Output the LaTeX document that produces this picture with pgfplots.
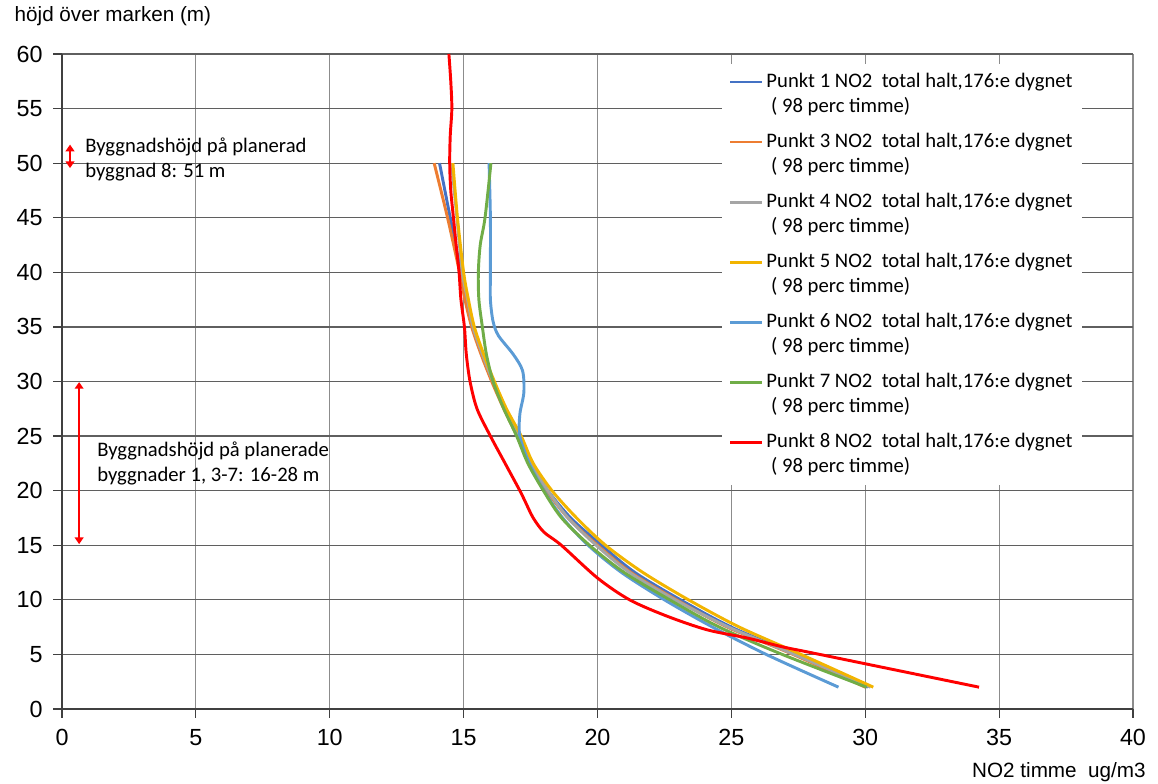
\documentclass[border=0pt]{standalone}
\usepackage{fontspec}
\setmainfont{Carlito}
\newfontfamily\arialfont{Liberation Sans}
\usepackage{pgfplots}
\pgfplotsset{compat=1.18}
\usetikzlibrary{arrows.meta}

\definecolor{cA}{HTML}{4472C4}
\definecolor{cB}{HTML}{ED7D31}
\definecolor{cC}{HTML}{A5A5A5}
\definecolor{cD}{HTML}{F2B400}
\definecolor{cE}{HTML}{5B9BD5}
\definecolor{cF}{HTML}{70AD47}
\definecolor{cG}{HTML}{FF0000}
\definecolor{gridv}{HTML}{8C8C8C}
\definecolor{gridh}{HTML}{5F5F5F}
\definecolor{axisc}{HTML}{404040}

\newcommand{\leg}[1]{\begin{tabular}[t]{@{}l@{}}Punkt #1 NO2\ \ total halt,176:e dygnet\\\ ( 98 perc timme)\end{tabular}}

\pgfplotstableread{
x y
30.1 2
27.4 5
25.0 7.5
23.1 10
21.4 12.5
20.15 15
19.0 17.5
18.15 20
17.5 22.5
17.05 25
16.55 27.5
16.1 30
15.7 32.5
15.35 35
15.1 37.5
14.9 40
14.5 45
14.1 50
}\pA
\pgfplotstableread{
x y
30.0 2
27.3 5
24.85 7.5
22.95 10
21.25 12.5
20.0 15
18.9 17.5
18.1 20
17.45 22.5
17.0 25
16.5 27.5
16.05 30
15.65 32.5
15.3 35
15.05 37.5
14.85 40
14.4 45
13.9 50
}\pB
\pgfplotstableread{
x y
30.2 2
27.35 5
24.9 7.5
22.9 10
21.2 12.5
19.95 15
18.9 17.5
18.15 20
17.5 22.5
17.05 25
16.55 27.5
16.1 30
15.7 32.5
15.35 35
15.15 37.5
14.95 40
14.75 45
14.55 50
}\pC
\pgfplotstableread{
x y
30.3 2
27.6 5
25.3 7.5
23.4 10
21.7 12.5
20.3 15
19.22 17.5
18.3 20
17.6 22.5
17.15 25
16.6 27.5
16.15 30
15.75 32.5
15.4 35
15.18 37.5
15.0 40
14.77 45
14.6 50
}\pD
\pgfplotstableread{
x y
29.0 2
26.3 5
24.3 7.5
22.5 10
20.9 12.5
19.65 15
18.7 17.5
18.0 20
17.45 22.5
17.1 25
17.1 27
17.25 29
17.2 31
16.85 32.5
16.3 34.2
16.1 35.5
16.0 37.5
16.0 40
16.0 45
15.95 50
}\pE
\pgfplotstableread{
x y
30.05 2
26.9 5
24.55 7.5
22.7 10
21.0 12.5
19.7 15
18.66 17.5
17.98 20
17.4 22.5
16.98 25
16.5 27.5
16.1 30
15.85 32.5
15.7 35
15.57 37.5
15.55 40
15.62 42.5
15.8 45
16.02 50
}\pF
\pgfplotstableread{
x y
34.25 2
28.3 5
26.9 5.7
25.6 6.5
24.1 7.25
22.6 8.5
21.2 10
20.0 12
18.65 15
18.0 16.2
17.6 17.5
17.3 19
17.1 20
16.55 22.5
16.0 25
15.5 27.5
15.24 30
15.1 32.5
15.03 35
14.9 37.5
14.83 40
14.72 42.5
14.62 45
14.52 47.5
14.48 50
14.5 52.5
14.56 55
14.52 57.5
14.45 60
}\pG

\begin{document}
\begin{tikzpicture}
\path[use as bounding box] (-46.5pt,-55.5pt) rectangle (822pt,531.75pt);
\begin{axis}[
  scale only axis,
  width=803.25pt, height=491.25pt,
  at={(0pt,0pt)}, anchor=south west,
  xmin=0, xmax=40, ymin=0, ymax=60,
  xtick={0,5,...,40}, ytick={0,5,...,60},
  axis x line*=bottom, axis y line*=left,
  axis line style={-, draw=axisc, line width=1.1pt},
  tick align=outside, major tick length=6.5pt,
  tick style={draw=axisc, line width=0.9pt},
  xmajorgrids, ymajorgrids,
  major x grid style={draw=gridv, line width=0.9pt},
  major y grid style={draw=gridh, line width=0.9pt},
  /pgf/number format/assume math mode=true,
  tick label style={font=\arialfont\fontsize{17.5}{20}\selectfont},
  yticklabel style={xshift=-4.5pt},
  xticklabel style={yshift=-5pt},
  xlabel={NO2 timme\ \ ug/m3},
  ylabel={höjd över marken (m)},
  every axis y label/.style={at={(rel axis cs:0,1)}, anchor=west, xshift=-39pt, yshift=28.5pt, font=\arialfont\fontsize{15.5}{18}\selectfont},
  every axis x label/.style={at={(rel axis cs:1,0)}, anchor=east, xshift=13pt, yshift=-47.5pt, font=\arialfont\fontsize{15.5}{18}\selectfont},
  legend cell align=left,
  legend style={draw=none, fill=white, at={(rel axis cs:0.6162,0.9847)}, anchor=north west,
    inner xsep=5pt, inner ysep=4pt, row sep=7.5pt,
    font=\fontsize{15.5}{18.75}\selectfont,
    nodes={inner xsep=2pt, inner ysep=0pt, text depth=24.4pt}},
  legend image code/.code={\draw[#1, line width=2.2pt] (0pt,9.5pt) -- (24pt,9.5pt);},
  every axis plot/.append style={line width=2.2pt, smooth, tension=0.5},
  clip=false,
]
\addplot[cA] table {\pA}; \addlegendentry{\leg{1}}
\addplot[cB] table {\pB}; \addlegendentry{\leg{3}}
\addplot[cC] table {\pC}; \addlegendentry{\leg{4}}
\addplot[cD] table {\pD}; \addlegendentry{\leg{5}}
\addplot[cE] table {\pE}; \addlegendentry{\leg{6}}
\addplot[cF] table {\pF}; \addlegendentry{\leg{7}}
\addplot[cG] table {\pG}; \addlegendentry{\leg{8}}

\draw[cG, line width=1.8pt, {Triangle[width=6.5pt,length=5pt]}-{Triangle[width=6.5pt,length=5pt]}] (axis cs:0.3,51.7) -- (axis cs:0.3,49.55);
\draw[cG, line width=1.8pt, {Triangle[width=6.5pt,length=5pt]}-{Triangle[width=6.5pt,length=5pt]}] (axis cs:0.64,29.95) -- (axis cs:0.64,15.1);
\node[anchor=west, align=left, inner sep=0pt, font=\fontsize{15.5}{18.75}\selectfont] at (axis cs:0.86,50.33) {Byggnadshöjd på planerad\\byggnad 8: 51 m};
\node[anchor=west, align=left, inner sep=0pt, font=\fontsize{15.5}{18.75}\selectfont] at (axis cs:1.31,22.49) {Byggnadshöjd på planerade\\byggnader 1, 3-7: 16-28 m};
\end{axis}
\end{tikzpicture}
\end{document}
